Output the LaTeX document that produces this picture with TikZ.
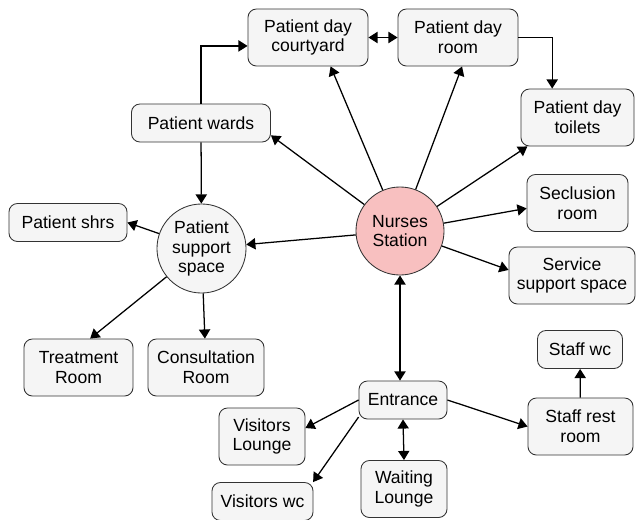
\documentclass[tikz,border=0pt]{standalone}
\usepackage{fontspec}
\setmainfont{Liberation Sans}
\usetikzlibrary{arrows.meta}
\definecolor{boxgray}{HTML}{F5F5F5}
\definecolor{nursepink}{HTML}{F8C0C0}
\definecolor{edgegray}{HTML}{333333}
\begin{document}
\begin{tikzpicture}[x=0.025cm,y=-0.025cm,
    room/.style={draw=edgegray,fill=boxgray,line width=0.6pt,rounded corners=6pt,align=center,inner sep=0pt,minimum height=1.425cm,font=\fontsize{12.5}{14}\selectfont},
    flat/.style={minimum height=0.95cm},
    hub/.style={draw=edgegray,fill=boxgray,line width=0.6pt,circle,align=center,inner sep=0pt,minimum size=2.2cm,font=\fontsize{12.5}{14}\selectfont},
    link/.style={-{Triangle[length=6.5pt,width=8pt]},line width=0.9pt},
    both/.style={{Triangle[length=6.5pt,width=8pt]}-{Triangle[length=6.5pt,width=8pt]},line width=0.9pt}]
    \useasboundingbox (0,0) rectangle (640,520);
    \node[hub,fill=nursepink] (nurse) at (400,231) {Nurses\\Station};
    \node[hub,minimum size=2.225cm] (support) at (201.5,248.5) {Patient\\support\\space};
    \node[room,minimum width=3cm] (courtyard) at (308,37.5) {Patient day\\courtyard};
    \node[room,minimum width=3cm] (dayroom) at (458,37.5) {Patient day\\room};
    \node[room,minimum width=2.825cm] (toilets) at (577.5,117.5) {Patient day\\toilets};
    \node[room,flat,minimum width=3.475cm] (wards) at (201,123) {Patient wards};
    \node[room,flat,minimum width=2.95cm] (shrs) at (68,222.5) {Patient shrs};
    \node[room,minimum width=2.725cm] (treatment) at (78.5,367.5) {Treatment\\Room};
    \node[room,minimum width=2.9cm] (consult) at (206,367.5) {Consultation\\Room};
    \node[room,minimum width=2.525cm] (seclusion) at (577.5,203) {Seclusion\\room};
    \node[room,minimum width=3.15cm] (service) at (572,275.5) {Service\\support space};
    \node[room,flat,minimum width=2.2cm] (entrance) at (403,400) {Entrance};
    \node[room,minimum width=2.15cm] (vlounge) at (262,436.5) {Visitors\\Lounge};
    \node[room,flat,minimum width=2.525cm] (vwc) at (262.5,501.5) {Visitors wc};
    \node[room,minimum width=2.15cm] (waiting) at (404,489) {Waiting\\Lounge};
    \node[room,minimum width=2.625cm] (staffrest) at (580.5,426.5) {Staff rest\\room};
    \node[room,flat,minimum width=2.125cm] (staffwc) at (580,349.5) {Staff wc};

    \draw[link] (nurse) -- (wards.-10);
    \draw[link] (nurse) -- (courtyard.-52);
    \draw[link] (nurse) -- (dayroom.-82);
    \draw[link] (nurse) -- (toilets.-150);
    \draw[link] (nurse) -- (seclusion.186);
    \draw[link] (nurse) -- (service.175);
    \draw[link] (nurse) -- (support);
    \draw[both] (nurse.south) -- (nurse.south |- entrance.north);

    \draw[link] (wards) -- (support);
    \draw[link] (wards.north) |- ([yshift=-6pt]courtyard.west);
    \draw[both] (courtyard) -- (dayroom);
    \draw[link] (dayroom.east) -| ([xshift=-18pt]toilets.north);

    \draw[link] (support) -- (shrs.east);
    \draw[link] (support) -- (treatment.68);
    \draw[link] (support) -- (consult);

    \draw[link] (entrance.west) -- (vlounge.11);
    \draw[link] (entrance.-159) -- (vwc.21);
    \draw[both] (entrance.south) -- (waiting.north);
    \draw[link] (entrance.east) -- (staffrest.west);
    \draw[link] (staffrest) -- (staffwc);
\end{tikzpicture}
\end{document}
